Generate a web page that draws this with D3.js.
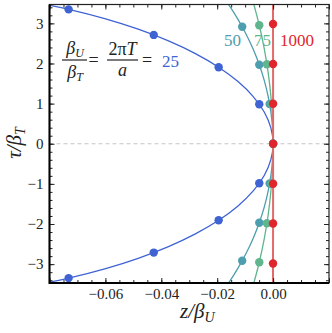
<!DOCTYPE html>
<html>
<head>
<meta charset="utf-8">
<script src="https://cdn.jsdelivr.net/npm/d3@7"></script>
<style>
  body { margin: 0; background: #fff; }
  svg text { font-family: "Liberation Serif", "Times New Roman", "DejaVu Serif", serif !important; }
</style>
</head>
<body>
<div id="chart"></div>
<script>
"use strict"

// ratios beta_U / beta_T
var ratios = [25, 50, 75, 1000]
var colors = ["#3f63d3", "#4d9eae", "#5fb58d", "#e0262c"]

// curve samples, tau/beta_T and z/beta_U
var tau25 = [-3.546, -3.348, -3.117, -2.854, -2.563, -2.247, -1.908, -1.549, -1.176, -0.790, -0.397, 0, 0.397, 0.790, 1.176, 1.549, 1.908, 2.247, 2.563, 2.854, 3.117, 3.348, 3.546]
var z25 = [-0.08696, -0.07316, -0.06022, -0.04827, -0.03743, -0.02780, -0.01948, -0.01256, -0.00711, -0.00317, -0.00080, 0, -0.00080, -0.00317, -0.00711, -0.01256, -0.01948, -0.02780, -0.03743, -0.04827, -0.06022, -0.07316, -0.08696]
var tau50 = [-3.815, -3.461, -3.099, -2.729, -2.352, -1.969, -1.581, -1.189, -0.794, -0.398, 0, 0.398, 0.794, 1.189, 1.581, 1.969, 2.352, 2.729, 3.099, 3.461, 3.815]
var z50 = [-0.01948, -0.01584, -0.01256, -0.00965, -0.00711, -0.00495, -0.00317, -0.00179, -0.00080, -0.00020, 0, -0.00020, -0.00080, -0.00179, -0.00317, -0.00495, -0.00711, -0.00965, -0.01256, -0.01584, -0.01948]
var tau75 = [-3.528, -2.953, -2.371, -1.784, -1.192, -0.597, 0, 0.597, 1.192, 1.784, 2.371, 2.953, 3.528]
var z75 = [-0.00711, -0.00495, -0.00317, -0.00179, -0.00080, -0.00020, 0, -0.00020, -0.00080, -0.00179, -0.00317, -0.00495, -0.00711]
var tau1000 = [-3.6, -3.0, -2.0, -1.0, 0, 1.0, 2.0, 3.0, 3.6]
var z1000 = [-0.00004, -0.00003, -0.00001, 0, 0, 0, -0.00001, -0.00003, -0.00004]

// marked points
var ptTau25 = [-3.348, -2.712, -1.908, -0.984, 0, 0.984, 1.908, 2.712, 3.348]
var ptZ25 = [-0.07316, -0.04270, -0.01948, -0.00495, 0, -0.00495, -0.01948, -0.04270, -0.07316]
var ptTau50 = [-2.915, -1.969, -0.992, 0, 0.992, 1.969, 2.915]
var ptZ50 = [-0.01106, -0.00495, -0.00124, 0, -0.00124, -0.00495, -0.01106]
var ptTau75 = [-2.953, -1.980, -0.994, 0, 0.994, 1.980, 2.953]
var ptZ75 = [-0.00495, -0.00221, -0.00055, 0, -0.00055, -0.00221, -0.00495]
var ptTau1000 = [-2.984, -1.989, -0.995, 0, 0.995, 1.989, 2.984]
var ptZ1000 = [-0.00003, -0.00001, 0, 0, 0, -0.00001, -0.00003]

// ticks
var xTickLabels = [-0.06, -0.04, -0.02, 0]
var yTickLabels = [-3, -2, -1, 0, 1, 2, 3]

var W = 332, H = 333
var plotL = 49.5, plotR = 329, plotT = 4.5, plotB = 283
var serif = "'Liberation Serif', 'Times New Roman', serif"

var x = d3.scaleLinear().domain([-0.08, 0.02]).range([plotL, plotR])
var y = d3.scaleLinear().domain([-3.47, 3.47]).range([plotB, plotT])

var svg = d3.select("#chart").append("svg")
    .attr("width", W).attr("height", H)
    .attr("font-family", serif)

svg.append("clipPath").attr("id", "plot")
  .append("rect")
    .attr("x", plotL).attr("y", plotT)
    .attr("width", plotR - plotL).attr("height", plotB - plotT)

var zip = function(zs, ts) { return zs.map(function(z, i) { return [z, ts[i]] }) }
var curves = [zip(z25, tau25), zip(z50, tau50), zip(z75, tau75), zip(z1000, tau1000)]
var points = [zip(ptZ25, ptTau25), zip(ptZ50, ptTau50), zip(ptZ75, ptTau75), zip(ptZ1000, ptTau1000)]

var plot = svg.append("g").attr("clip-path", "url(#plot)")

// zero line
plot.append("line")
    .attr("x1", plotL).attr("x2", plotR)
    .attr("y1", y(0)).attr("y2", y(0))
    .attr("stroke", "#c4c4c4").attr("stroke-width", 1)
    .attr("stroke-dasharray", "4,3")

var line = d3.line()
    .x(function(d) { return x(d[0]) })
    .y(function(d) { return y(d[1]) })
    .curve(d3.curveCatmullRom)

curves.forEach(function(c, i) {
  plot.append("path")
      .datum(c)
      .attr("d", line)
      .attr("fill", "none")
      .attr("stroke", i == 3 ? "#e36a6a" : colors[i])
      .attr("stroke-width", i == 3 ? 2 : 1.3)
})

points.forEach(function(p, i) {
  plot.selectAll(null)
      .data(p)
    .enter().append("circle")
      .attr("cx", function(d) { return x(d[0]) })
      .attr("cy", function(d) { return y(d[1]) })
      .attr("r", 4.2)
      .attr("fill", colors[i])
})

// frame and ticks (inward)
var minorX = d3.range(-0.08, 0.0201, 0.005)
var majorX = d3.range(-0.08, 0.0201, 0.02)
var minorY = d3.range(-3.4, 3.41, 0.2)

svg.append("g").attr("transform", "translate(0," + plotB + ")")
    .call(d3.axisBottom(x).tickValues(minorX).tickSize(-3).tickFormat(""))
svg.append("g").attr("transform", "translate(0," + plotB + ")")
    .call(d3.axisBottom(x).tickValues(majorX).tickSize(-5).tickFormat(""))
svg.append("g").attr("transform", "translate(0," + plotB + ")")
    .call(d3.axisBottom(x).tickValues(xTickLabels).tickSize(0).tickPadding(5).tickFormat(d3.format(".2f")))
svg.append("g").attr("transform", "translate(0," + plotT + ")")
    .call(d3.axisTop(x).tickValues(minorX).tickSize(-3).tickFormat(""))
svg.append("g").attr("transform", "translate(0," + plotT + ")")
    .call(d3.axisTop(x).tickValues(majorX).tickSize(-5).tickFormat(""))

svg.append("g").attr("transform", "translate(" + plotL + ",0)")
    .call(d3.axisLeft(y).tickValues(minorY).tickSize(-3).tickFormat(""))
svg.append("g").attr("transform", "translate(" + plotL + ",0)")
    .call(d3.axisLeft(y).tickValues(yTickLabels).tickSize(-5).tickPadding(6).tickFormat(d3.format("d")))
svg.append("g").attr("transform", "translate(" + plotR + ",0)")
    .call(d3.axisRight(y).tickValues(minorY).tickSize(-3).tickFormat(""))
svg.append("g").attr("transform", "translate(" + plotR + ",0)")
    .call(d3.axisRight(y).tickValues(yTickLabels).tickSize(-5).tickFormat(""))

svg.selectAll("g").attr("font-family", serif)
svg.selectAll(".domain").remove()
svg.selectAll(".tick line").attr("stroke", "#222").attr("stroke-width", 1)
svg.selectAll(".tick text").attr("font-size", 15).attr("fill", "#222")

svg.append("rect")
    .attr("x", plotL).attr("y", plotT)
    .attr("width", plotR - plotL).attr("height", plotB - plotT)
    .attr("fill", "none").attr("stroke", "#222").attr("stroke-width", 1.2)
svg.append("path")
    .attr("d", "M" + plotL + "," + plotT + "V" + plotB + "H" + plotR)
    .attr("fill", "none").attr("stroke", "#000").attr("stroke-width", 2)

// axis labels
var xl = svg.append("text").attr("x", 180).attr("y", 318)
    .attr("font-size", 21).attr("font-style", "italic").attr("fill", "#222")
xl.append("tspan").text("z/β")
xl.append("tspan").attr("font-size", 14).attr("dy", 4).text("U")

var yl = svg.append("text")
    .attr("transform", "translate(21,143) rotate(-90)")
    .attr("text-anchor", "middle")
    .attr("font-size", 21).attr("font-style", "italic").attr("fill", "#222")
yl.append("tspan").text("τ/β")
yl.append("tspan").attr("font-size", 14).attr("dy", 4).text("T")

// ratio formula
var fs = 18
function frac(cx, num, sub1, den, sub2) {
  var n = svg.append("text").attr("x", cx).attr("y", 54).attr("text-anchor", "middle")
      .attr("font-size", fs).attr("fill", "#222")
  n.append("tspan").attr("font-style", "italic").text(num)
  if (sub1) n.append("tspan").attr("font-style", "italic").attr("font-size", 12).attr("dy", 3).text(sub1)
  var d = svg.append("text").attr("x", cx).attr("y", 78).attr("text-anchor", "middle")
      .attr("font-size", fs).attr("fill", "#222")
  d.append("tspan").attr("font-style", "italic").text(den)
  if (sub2) d.append("tspan").attr("font-style", "italic").attr("font-size", 12).attr("dy", 3).text(sub2)
}
frac(75, "β", "U", "β", "T")
svg.append("line").attr("x1", 62).attr("x2", 87).attr("y1", 60).attr("y2", 60)
    .attr("stroke", "#333").attr("stroke-width", 1.3)
svg.append("text").attr("x", 93.5).attr("y", 66).attr("text-anchor", "middle")
    .attr("font-size", fs).attr("fill", "#222").text("=")

var n2 = svg.append("text").attr("x", 122.5).attr("y", 55).attr("text-anchor", "middle")
    .attr("font-size", fs).attr("fill", "#222")
n2.append("tspan").text("2π")
n2.append("tspan").attr("font-style", "italic").text("T")
svg.append("text").attr("x", 122.5).attr("y", 76).attr("text-anchor", "middle")
    .attr("font-size", fs).attr("font-style", "italic").attr("fill", "#222").text("a")
svg.append("line").attr("x1", 107).attr("x2", 138).attr("y1", 60).attr("y2", 60)
    .attr("stroke", "#333").attr("stroke-width", 1.3)
svg.append("text").attr("x", 147).attr("y", 66).attr("text-anchor", "middle")
    .attr("font-size", fs).attr("fill", "#222").text("=")

// ratio labels
var labelPos = [[162, 67], [224, 46], [254, 46], [280, 46]]
ratios.forEach(function(r, i) {
  svg.append("text")
      .attr("x", labelPos[i][0]).attr("y", labelPos[i][1])
      .attr("font-size", 17).attr("fill", colors[i])
      .text(r)
})
</script>
</body>
</html>
